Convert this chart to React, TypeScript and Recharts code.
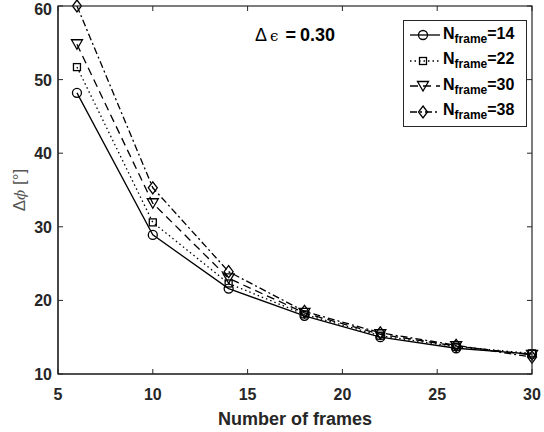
import React from 'react';
import { LineChart, Line, XAxis, YAxis } from 'recharts';

const frames = [6, 10, 14, 18, 22, 26, 30];
const s14 = [48.2, 28.9, 21.6, 17.9, 15.0, 13.5, 12.7];
const s22 = [51.7, 30.6, 22.3, 18.1, 15.2, 13.7, 12.8];
const s30 = [54.8, 33.2, 23.0, 18.3, 15.4, 13.8, 12.6];
const s38 = [60.0, 35.3, 23.9, 18.5, 15.6, 13.9, 12.3];
const xTicks = [5, 10, 15, 20, 25, 30];
const yTicks = [10, 20, 30, 40, 50, 60];
const legendLabels = ['14', '22', '30', '38'];

const data = frames.map((f, i) => ({ x: f, s14: s14[i], s22: s22[i], s30: s30[i], s38: s38[i] }));

const FONT = '"Liberation Sans", Arial, Helvetica, sans-serif';
const INK = '#262626';
const CHART_W = 544;
const CHART_H = 432;
const MARGIN = { top: 6, right: 12, left: 0, bottom: 0 };
const Y_AXIS_W = 58;
const X_AXIS_H = 58;
const PLOT_L = MARGIN.left + Y_AXIS_W;
const PLOT_T = MARGIN.top;
const PLOT_W = CHART_W - MARGIN.left - MARGIN.right - Y_AXIS_W;
const PLOT_H = CHART_H - MARGIN.top - MARGIN.bottom - X_AXIS_H;
const X_DOMAIN = [5, 30];
const Y_DOMAIN = [10, 60];

type MarkerKind = 'circle' | 'square' | 'tri' | 'diamond';

const Marker = ({ kind, cx, cy }: { kind: MarkerKind; cx: number; cy: number }) => {
  const common = { fill: 'none', stroke: '#000', strokeWidth: 1.3 };
  if (kind === 'circle') return <circle cx={cx} cy={cy} r={4.5} {...common} />;
  if (kind === 'square') return <rect x={cx - 3.5} y={cy - 3.5} width={7} height={7} {...common} />;
  if (kind === 'tri')
    return <polygon points={`${cx - 5.5},${cy - 4.5} ${cx + 5.5},${cy - 4.5} ${cx},${cy + 5}`} {...common} />;
  return <polygon points={`${cx},${cy - 6} ${cx + 4.5},${cy} ${cx},${cy + 6} ${cx - 4.5},${cy}`} {...common} />;
};

const makeDot = (kind: MarkerKind) => (props: any) => {
  const { cx, cy, index } = props;
  if (cx == null || cy == null) return <g key={index} />;
  return <g key={index}><Marker kind={kind} cx={cx} cy={cy} /></g>;
};

const BottomTick = (props: any) => {
  const { x, y, payload } = props;
  return (
    <text x={x} y={y + 26} textAnchor="middle" fontFamily={FONT} fontWeight="bold" fontSize={16} fill={INK}>
      {payload.value}
    </text>
  );
};
const LeftTick = (props: any) => {
  const { x, y, payload } = props;
  return (
    <text x={x - 6} y={y + 6} textAnchor="end" fontFamily={FONT} fontWeight="bold" fontSize={16} fill={INK}>
      {payload.value}
    </text>
  );
};

// Frame of the axes box with inward tick marks on all four sides
const AxesFrame = () => {
  const sx = (v: number) => PLOT_L + ((v - X_DOMAIN[0]) / (X_DOMAIN[1] - X_DOMAIN[0])) * PLOT_W;
  const sy = (v: number) => PLOT_T + PLOT_H - ((v - Y_DOMAIN[0]) / (Y_DOMAIN[1] - Y_DOMAIN[0])) * PLOT_H;
  const bottom = PLOT_T + PLOT_H;
  const right = PLOT_L + PLOT_W;
  return (
    <svg
      width={CHART_W} height={CHART_H}
      style={{ position: 'absolute', left: 0, top: 0, pointerEvents: 'none', overflow: 'visible' }}
    >
      <rect x={PLOT_L} y={PLOT_T} width={PLOT_W} height={PLOT_H} fill="none" stroke={INK} strokeWidth={1.2} />
      {xTicks.map((t) => (
        <g key={`x${t}`}>
          <line x1={sx(t)} y1={bottom} x2={sx(t)} y2={bottom - 5} stroke={INK} strokeWidth={1} />
          <line x1={sx(t)} y1={PLOT_T} x2={sx(t)} y2={PLOT_T + 5} stroke={INK} strokeWidth={1} />
        </g>
      ))}
      {yTicks.map((t) => (
        <g key={`y${t}`}>
          <line x1={PLOT_L} y1={sy(t)} x2={PLOT_L + 5} y2={sy(t)} stroke={INK} strokeWidth={1} />
          <line x1={right} y1={sy(t)} x2={right - 5} y2={sy(t)} stroke={INK} strokeWidth={1} />
        </g>
      ))}
    </svg>
  );
};

const series: { key: string; kind: MarkerKind; dash?: string }[] = [
  { key: 's14', kind: 'circle' },
  { key: 's22', kind: 'square', dash: '1.5 3' },
  { key: 's30', kind: 'tri', dash: '8 5' },
  { key: 's38', kind: 'diamond', dash: '7 3 2 3' },
];

const LegendBox = () => (
  <div
    style={{
      position: 'absolute', left: 403, top: 20, width: 122, height: 105,
      border: `1.5px solid ${INK}`, background: '#fff', fontFamily: FONT,
      fontWeight: 'bold', color: '#000',
    }}
  >
    {series.map((s, i) => (
      <div key={s.key} style={{ position: 'absolute', left: 0, top: 2 + i * 25.5, height: 24, display: 'flex', alignItems: 'center' }}>
        <svg width={40} height={24} style={{ display: 'block' }}>
          <line x1={6} y1={12} x2={36} y2={12} stroke="#000" strokeWidth={1.3} strokeDasharray={s.dash} />
          <Marker kind={s.kind} cx={19} cy={12} />
        </svg>
        <span style={{ fontSize: 16, whiteSpace: 'nowrap', marginLeft: -1 }}>
          N<sub style={{ fontSize: 12, verticalAlign: -4 }}>frame</sub>={legendLabels[i]}
        </span>
      </div>
    ))}
  </div>
);

export default function App() {
  return (
    <div style={{ position: 'absolute', left: 0, top: 0, width: CHART_W, height: CHART_H, background: '#fff' }}>
      <LineChart width={CHART_W} height={CHART_H} data={data} margin={MARGIN}>
        <XAxis
          dataKey="x" type="number" domain={X_DOMAIN} ticks={xTicks}
          height={X_AXIS_H} tickSize={0} tickMargin={0} tick={<BottomTick />}
          axisLine={{ stroke: INK, strokeWidth: 1.2 }} tickLine={false}
        />
        <YAxis
          type="number" domain={Y_DOMAIN} ticks={yTicks}
          width={Y_AXIS_W} tickSize={0} tickMargin={0} tick={<LeftTick />}
          axisLine={{ stroke: INK, strokeWidth: 1.2 }} tickLine={false}
        />
        {series.map((s) => (
          <Line
            key={s.key} dataKey={s.key} type="linear" stroke="#000" strokeWidth={1.3}
            strokeDasharray={s.dash} dot={makeDot(s.kind)} activeDot={false} isAnimationActive={false}
          />
        ))}
      </LineChart>
      <AxesFrame />
      <div style={{ position: 'absolute', left: 255, top: 25, fontFamily: FONT, fontSize: 18, color: '#000', whiteSpace: 'nowrap' }}>
        Δ<span style={{ fontFamily: '"DejaVu Serif", serif', fontSize: 15, marginLeft: 3 }}>ϵ</span>
        <b style={{ marginLeft: 7 }}>=</b>
        <b style={{ marginLeft: 4 }}>0.30</b>
      </div>
      <div
        style={{
          position: 'absolute', left: 295, top: 409, transform: 'translateX(-50%)', fontFamily: FONT,
          fontSize: 18, fontWeight: 'bold', color: INK, whiteSpace: 'nowrap',
        }}
      >
        Number of frames
      </div>
      <div
        style={{
          position: 'absolute', left: 20, top: 190, transform: 'translate(-50%, -50%) rotate(-90deg)',
          fontFamily: FONT, fontSize: 17, color: '#555', whiteSpace: 'nowrap',
        }}
      >
        Δ<i style={{ fontFamily: '"DejaVu Serif", serif', fontSize: 15 }}>ϕ</i> [°]
      </div>
      <LegendBox />
    </div>
  );
}
